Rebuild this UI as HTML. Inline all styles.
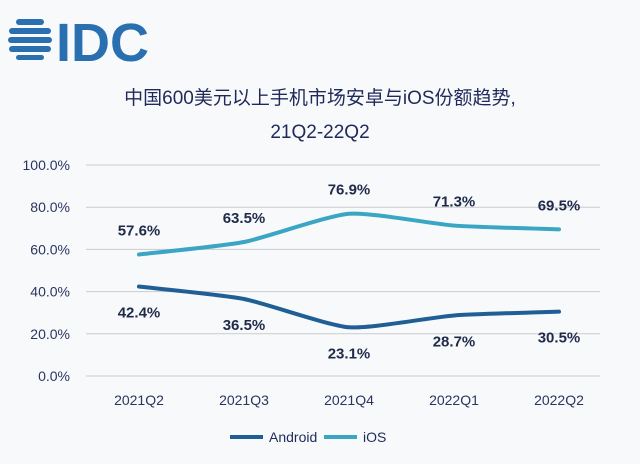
<!DOCTYPE html>
<html><head><meta charset="utf-8"><style>
body{margin:0;background:#f8f9fb;}
svg{display:block;font-family:"Liberation Sans","Noto Sans CJK SC",sans-serif;}
</style></head><body>
<svg width="640" height="464" viewBox="0 0 640 464">
<rect width="640" height="464" fill="#f8f9fb"/>
<g fill="#2a6fb0">
<rect x="16" y="19" width="28" height="6" rx="3"/><rect x="9" y="28" width="42" height="6" rx="3"/>
<rect x="8" y="37" width="44" height="6" rx="3"/><rect x="9" y="46" width="42" height="6" rx="3"/>
<rect x="16" y="55" width="28" height="5" rx="2.5"/>
<text x="56" y="61" font-size="54" font-weight="bold" fill="#2a6fb0" font-family="Liberation Sans,sans-serif">IDC</text>
</g>
<text x="320" y="104" text-anchor="middle" font-size="19" fill="#1f2a5a">中国600美元以上手机市场安卓与iOS份额趋势,</text>
<text x="320" y="138" text-anchor="middle" font-size="19" fill="#1f2a5a">21Q2-22Q2</text>
<g id="grid"></g><g id="xlab"></g><g id="lines"></g><g id="vals"></g>
<g>
<line x1="230" y1="437" x2="263" y2="437" stroke="#1f5f96" stroke-width="4"/>
<text x="269" y="442" font-size="14" fill="#1f2a5a">Android</text>
<line x1="324" y1="437" x2="357" y2="437" stroke="#3aa6c4" stroke-width="4"/>
<text x="363" y="442" font-size="14" fill="#1f2a5a">iOS</text>
</g>
</svg>
<script>
const categories=["2021Q2","2021Q3","2021Q4","2022Q1","2022Q2"];
const iosValues=[57.6,63.5,76.9,71.3,69.5];
const androidValues=[42.4,36.5,23.1,28.7,30.5];
const yTicks=[0,20,40,60,80,100];
const NS="http://www.w3.org/2000/svg";
const x0=139,dx=105,yb=376,yt=165;
const X=i=>x0+i*dx, Y=v=>yb-(v/100)*(yb-yt);
function mk(t,a,p){const e=document.createElementNS(NS,t);for(const k in a)e.setAttribute(k,a[k]);p.appendChild(e);return e;}
const grid=document.getElementById('grid');
yTicks.forEach(v=>{
 const l=mk('line',{x1:86,x2:600,y1:Y(v),y2:Y(v),stroke:'#c9cbd0','stroke-width':1},grid);
 
 
 const t=mk('text',{x:70,y:Y(v)+5,'text-anchor':'end','font-size':14,fill:'#2a3560'},grid);
 t.textContent=v.toFixed(1)+'%';
 
 
});
const xl=document.getElementById('xlab');
categories.forEach((c,i)=>{
 const t=mk('text',{x:X(i),y:405,'text-anchor':'middle','font-size':14,fill:'#2a3560'},xl);
 t.textContent=c;
 
 
});
function path(vals){
 const p=vals.map((v,i)=>[X(i),Y(v)]);let d='M'+p[0];
 for(let i=0;i<p.length-1;i++){
  const a=p[i-1]||p[i],b=p[i],c=p[i+1],e=p[i+2]||c,k=0.1;
  d+=` C${b[0]+(c[0]-a[0])*k},${b[1]+(c[1]-a[1])*k} ${c[0]-(e[0]-b[0])*k},${c[1]-(e[1]-b[1])*k} ${c[0]},${c[1]}`;
 }return d;
}
const lg=document.getElementById('lines'),vg=document.getElementById('vals');
[[iosValues,'#3aa6c4',-19,'ios'],[androidValues,'#1f5f96',31,'android']].forEach(([vals,col,off,n])=>{
 const p=mk('path',{d:path(vals),fill:'none',stroke:col,'stroke-width':4,'stroke-linecap':'round'},lg);
 
 
 vals.forEach((v,i)=>{
  const t=mk('text',{x:X(i),y:Y(v)+off,'text-anchor':'middle','font-size':15,'font-weight':'bold',fill:'#1f2a4a'},vg);
  t.textContent=v.toFixed(1)+'%';
  
  
 });
});
</script>
</body></html>
